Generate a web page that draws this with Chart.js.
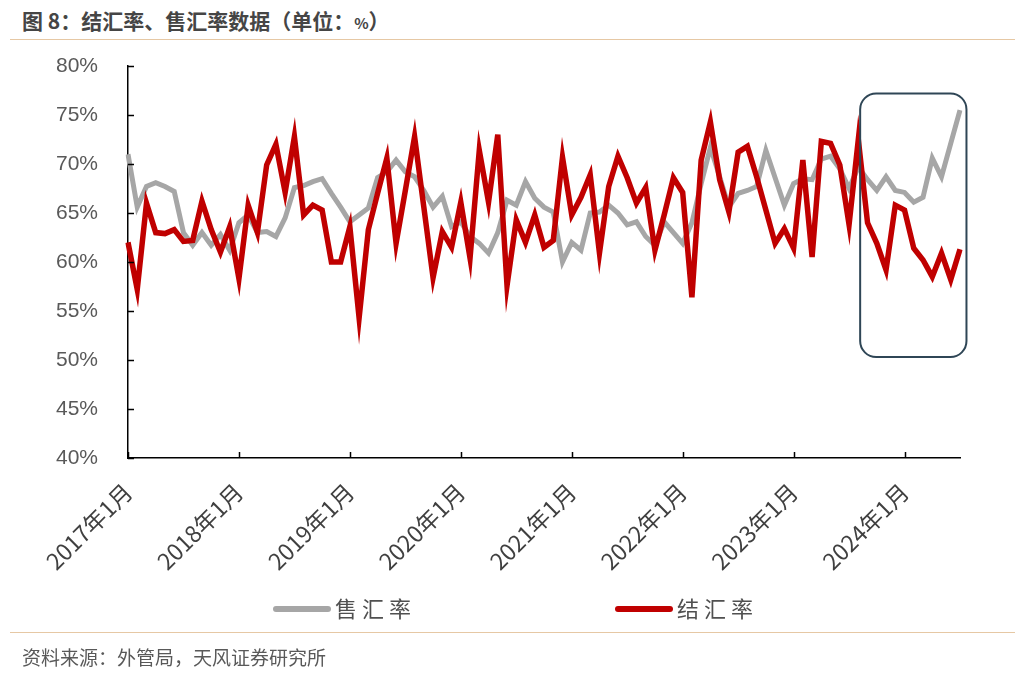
<!DOCTYPE html>
<html>
<head>
<meta charset="utf-8">
<script src="https://cdn.jsdelivr.net/npm/chart.js@4.4.1/dist/chart.umd.min.js"></script>
<style>
  body { margin: 0; background: #fff; width: 1024px; height: 683px; overflow: hidden; position: relative; font-family: "Noto Sans CJK SC", sans-serif; }
  #title { position: absolute; left: 22px; top: 5px; font-size: 21px; font-weight: bold; color: #454545; }
  .rule { position: absolute; left: 10px; width: 1005px; height: 1px; background: #e6c8a4; }
  #source { position: absolute; left: 22px; top: 643px; font-size: 19px; color: #595959; }
  #wrap { position: absolute; left: 0; top: 0; width: 1024px; height: 683px; }
  .leg { position: absolute; top: 591px; font-size: 22px; color: #505050; letter-spacing: 5px; white-space: nowrap; }
  .leg .bar { display: inline-block; width: 58px; height: 6px; border-radius: 3px; vertical-align: middle; margin-right: 4px; position: relative; top: -2px; }
</style>
</head>
<body>
<div id="title">图 8：结汇率、售汇率数据（单位：<span style="font-size:15px">%</span>）</div>
<div class="rule" style="top:39px"></div>
<div id="wrap"><canvas id="chart"></canvas></div>
<div class="leg" style="left:273px"><span class="bar" style="background:#a6a6a6"></span>售汇率</div>
<div class="leg" style="left:615px"><span class="bar" style="background:#c00000"></span>结汇率</div>
<div class="rule" style="top:632px"></div>
<div id="source">资料来源：外管局，天风证券研究所</div>
<script>
// 2017年1月 - 2024年7月, monthly
const startYear = 2017;
const monthCount = 91;
const months = [];
for (let i = 0; i < monthCount; i++) {
  months.push(`${startYear + Math.floor(i / 12)}年${(i % 12) + 1}月`);
}

// 结汇率 (%)
const jiehui = [
  62.0, 57.2, 66.0, 63.0, 62.9, 63.3, 62.1, 62.2, 66.2, 63.3, 61.0, 63.6,
  58.3, 65.8, 63.0, 69.9, 72.0, 67.1, 72.8, 64.8, 65.8, 65.3, 60.0, 60.0,
  63.6, 54.3, 63.3, 67.0, 70.6, 61.9, 67.3, 72.8, 65.6, 58.4, 63.1, 61.5,
  66.1, 60.4, 71.4, 66.1, 73.0, 57.6, 64.3, 62.0, 64.8, 61.5, 62.2, 70.7,
  64.8, 66.6, 68.9, 60.9, 67.7, 70.8, 68.6, 66.0, 67.6, 61.2, 64.8, 68.6,
  67.1, 56.4, 70.4, 74.3, 68.4, 65.1, 71.2, 71.8, 68.7, 65.3, 61.9, 63.4,
  61.4, 70.4, 60.5, 72.3, 72.1, 69.9, 63.8, 72.5, 64.0, 61.9, 59.2, 65.8,
  65.3, 61.4, 60.2, 58.5, 60.9, 58.2, 61.3
];

// 售汇率 (%)
const shouhui = [
  71.0, 65.6, 67.7, 68.1, 67.7, 67.2, 63.0, 61.7, 63.0, 61.7, 62.8, 61.2,
  64.0, 64.8, 63.0, 63.1, 62.6, 64.5, 67.6, 67.8, 68.2, 68.5, 67.0, 65.6,
  64.1, 64.8, 65.5, 68.6, 69.2, 70.4, 69.2, 68.7, 67.3, 65.6, 66.7, 63.6,
  64.1, 62.6, 61.9, 60.9, 63.0, 66.3, 65.8, 68.2, 66.5, 65.6, 65.1, 60.0,
  62.0, 61.2, 65.0, 65.1, 65.8, 65.0, 63.8, 64.1, 62.6, 61.7, 64.1, 63.0,
  61.9, 64.0, 68.0, 71.7, 68.7, 65.6, 67.0, 67.3, 67.7, 71.4, 68.6, 65.8,
  68.0, 68.5, 68.4, 70.5, 70.8, 69.5, 67.5, 69.7, 68.4, 67.3, 68.7, 67.3,
  67.1, 66.1, 66.6, 70.6, 68.7, 72.1, 75.5
];

const yTicks = [40, 45, 50, 55, 60, 65, 70, 75, 80];

// highlighted range (month index / percent)
const boxX = [79.2, 90.7];
const boxY = [77.2, 50.3];

const innerTicks = {
  id: 'innerTicks',
  afterDraw(chart) {
    const { ctx, scales: { x, y } } = chart;
    ctx.save();
    ctx.strokeStyle = '#000';
    ctx.lineWidth = 1.5;
    ctx.beginPath();
    yTicks.forEach(v => {
      const py = Math.round(y.getPixelForValue(v)) + 0.5;
      ctx.moveTo(x.left, py);
      ctx.lineTo(x.left + 6, py);
    });
    months.forEach((m, i) => {
      if (i % 12 !== 0) return;
      const px = Math.round(x.getPixelForValue(i)) + 0.5;
      ctx.moveTo(px, y.bottom);
      ctx.lineTo(px, y.bottom - 6);
    });
    ctx.stroke();
    ctx.restore();
  }
};

const highlightBox = {
  id: 'highlightBox',
  afterDraw(chart) {
    const { ctx, scales: { x, y } } = chart;
    const l = x.getPixelForValue(boxX[0]), r = x.getPixelForValue(boxX[1]);
    const t = y.getPixelForValue(boxY[0]), b = y.getPixelForValue(boxY[1]);
    const rad = 16;
    ctx.save();
    ctx.strokeStyle = '#2f4656';
    ctx.lineWidth = 2;
    ctx.beginPath();
    ctx.moveTo(l + rad, t);
    ctx.arcTo(r, t, r, b, rad);
    ctx.arcTo(r, b, l, b, rad);
    ctx.arcTo(l, b, l, t, rad);
    ctx.arcTo(l, t, r, t, rad);
    ctx.closePath();
    ctx.stroke();
    ctx.restore();
  }
};

const ctx = document.getElementById('chart').getContext('2d');
new Chart(ctx, {
  type: 'line',
  data: {
    labels: months,
    datasets: [
      {
        label: '结汇率',
        data: jiehui,
        borderColor: '#c00000',
        backgroundColor: '#c00000',
        borderWidth: 5.5,
        pointRadius: 0,
        tension: 0
      },
      {
        label: '售汇率',
        data: shouhui,
        borderColor: '#a6a6a6',
        backgroundColor: '#a6a6a6',
        borderWidth: 5,
        pointRadius: 0,
        tension: 0
      }
    ]
  },
  options: {
    responsive: true,
    maintainAspectRatio: false,
    animation: false,
    layout: { padding: { left: 0, right: 64, top: 66, bottom: 85 } },
    plugins: {
      legend: { display: false },
      tooltip: { enabled: false }
    },
    scales: {
      x: {
        offset: false,
        grid: { display: false },
        border: { display: true, color: '#000', width: 1.5 },
        ticks: {
          autoSkip: false,
          minRotation: 45,
          maxRotation: 45,
          padding: 12,
          color: '#404040',
          font: { size: 23, family: '"Noto Sans CJK SC", "Liberation Sans", sans-serif' },
          callback: (v, i) => (i % 12 === 0 ? months[i] : '')
        },
        afterFit: s => { s.height = 140; }
      },
      y: {
        min: 40,
        max: 80,
        grid: { display: false },
        border: { display: true, color: '#000', width: 1.5 },
        ticks: {
          stepSize: 5,
          padding: 22,
          color: '#595959',
          font: { size: 21, family: '"Liberation Sans", Arial, sans-serif' },
          callback: v => v + '%'
        },
        afterFit: s => { s.width = 128; }
      }
    }
  },
  plugins: [innerTicks, highlightBox]
});
</script>
</body>
</html>
